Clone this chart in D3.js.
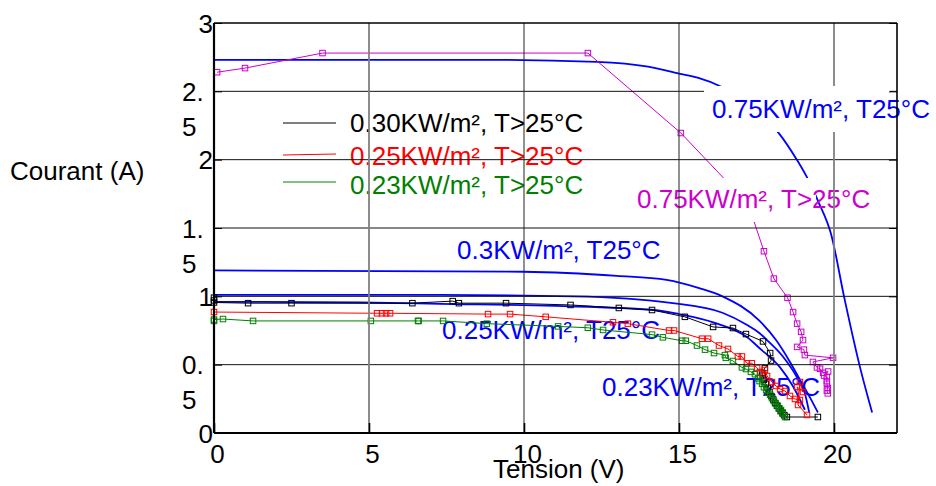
<!DOCTYPE html>
<html>
<head>
<meta charset="utf-8">
<script src="https://cdn.jsdelivr.net/npm/d3@7"></script>
<style>
  body { margin: 0; background: #fff; }
  svg { display: block; font-family: "Liberation Sans", Arial, sans-serif; }
</style>
</head>
<body>
<svg id="chart" width="936" height="486"></svg>
<script>
// values, [tension V, courant A]
const xTicks = [0, 5, 10, 15, 20];
const yTicks = [0, 0.5, 1, 1.5, 2, 2.5, 3];
const yTickLabels = ["0", "0.|5", "1", "1.|5", "2", "2.|5", "3"];

// model curves, T25°C (blue, no markers)
const model075 = [[0, 2.73], [9, 2.73], [12.35, 2.715], [14, 2.68], [15, 2.63], [15.6, 2.6], [16.4, 2.53],
  [17.3, 2.4], [18.2, 2.2], [18.8, 2.0], [19.13, 1.87], [19.5, 1.69], [19.9, 1.46], [20.35, 0.97],
  [20.84, 0.48], [21.23, 0.15]];
const model030 = [[0, 1.19], [10, 1.18], [13, 1.15], [14.6, 1.12], [15.65, 1.06], [16.4, 1.0], [17.6, 0.82],
  [18.13, 0.68], [18.58, 0.52], [18.95, 0.37], [19.25, 0.25], [19.48, 0.15]];
const model025 = [[0, 1.01], [7.3, 1.01], [11.6, 1.0], [14.8, 0.95], [16.4, 0.88], [17.2, 0.79], [17.6, 0.73],
  [17.84, 0.68], [18.35, 0.56], [18.8, 0.41], [19.06, 0.29], [19.2, 0.15]];
const model023 = [[0, 0.96], [4.7, 0.955], [7.3, 0.945], [11, 0.93], [14.2, 0.9], [15, 0.87], [16.1, 0.81],
  [17.2, 0.7], [17.6, 0.62], [18.26, 0.48], [18.68, 0.34], [19.06, 0.17]];

// measured, T>25°C (markers)
const meas075 = [[0.1, 2.64], [1.0, 2.67], [3.5, 2.78], [12.06, 2.78], [15.06, 2.195], [16.9, 1.755],
  [17.35, 1.595], [17.74, 1.33], [18.06, 1.13], [18.5, 0.99], [18.68, 0.885], [18.81, 0.8], [18.94, 0.74],
  [19.0, 0.68], [18.81, 0.63], [19.03, 0.61], [19.06, 0.57], [19.97, 0.55], [19.32, 0.52], [19.45, 0.48],
  [19.55, 0.47], [19.65, 0.44], [19.81, 0.45], [19.68, 0.42], [19.77, 0.41], [19.77, 0.38], [19.77, 0.36],
  [19.8, 0.33], [19.77, 0.31], [19.8, 0.29]];
const meas030 = [[0, 0.99], [0, 0.97], [0, 0.955], [1.1, 0.95], [2.5, 0.95], [6.4, 0.95], [7.7, 0.965],
  [7.9, 0.95], [9.42, 0.95], [11.5, 0.937], [13.06, 0.915], [14.13, 0.9], [15.19, 0.85], [16.1, 0.776],
  [16.74, 0.768], [17.16, 0.724], [17.71, 0.67], [17.94, 0.585], [17.97, 0.53], [17.77, 0.475], [17.68, 0.44],
  [17.7, 0.42], [17.74, 0.39], [17.8, 0.36], [17.86, 0.33], [17.92, 0.3], [17.98, 0.27], [18.04, 0.245],
  [18.1, 0.22], [18.16, 0.2], [18.22, 0.18], [18.28, 0.16], [18.34, 0.145], [18.4, 0.13], [18.48, 0.117],
  [19.48, 0.117]];
const meas025 = [[0, 0.885], [5.26, 0.876], [5.42, 0.876], [5.55, 0.876], [5.68, 0.876], [8.84, 0.87],
  [9.55, 0.87], [10.7, 0.85], [12.87, 0.81], [13.35, 0.8], [14.68, 0.75], [14.84, 0.75], [15.74, 0.69],
  [15.94, 0.69], [16.29, 0.64], [16.58, 0.615], [16.9, 0.56], [17.03, 0.56], [17.19, 0.51], [17.35, 0.51],
  [17.52, 0.476], [17.61, 0.446], [17.77, 0.461], [17.84, 0.417], [18.0, 0.373], [18.13, 0.344],
  [18.26, 0.322], [18.42, 0.307], [18.58, 0.271], [18.74, 0.249], [18.9, 0.241], [18.81, 0.337],
  [19.0, 0.3], [18.9, 0.373], [18.84, 0.205], [19.13, 0.132]];
const meas023 = [[0, 0.82], [0, 0.83], [0.29, 0.834], [1.26, 0.82], [5.06, 0.82], [6.58, 0.82], [6.6, 0.82],
  [7.39, 0.82], [8.8, 0.8], [11.1, 0.78], [12.06, 0.77], [12.55, 0.754], [14.13, 0.72], [14.48, 0.7],
  [15.1, 0.675], [15.22, 0.675], [15.58, 0.64], [15.84, 0.61], [16.13, 0.585], [16.48, 0.57], [16.51, 0.55],
  [16.74, 0.527], [17.03, 0.48], [17.16, 0.468], [17.32, 0.447], [17.45, 0.43], [17.55, 0.4], [17.6, 0.38],
  [17.68, 0.36], [17.74, 0.335], [17.81, 0.315], [17.87, 0.295], [17.94, 0.28], [18.0, 0.255],
  [18.06, 0.234], [18.12, 0.215], [18.19, 0.198], [18.24, 0.18], [18.29, 0.168], [18.35, 0.15],
  [18.35, 0.139], [18.42, 0.117]];

const legendNames = ["0.30KW/m², T>25°C", "0.25KW/m², T>25°C", "0.23KW/m², T>25°C"];

const svg = d3.select("#chart");
const plotL = 214, plotT = 23, plotR = 897, plotB = 433;

const x = d3.scaleLinear().domain([0, 22]).range([plotL, plotL + 22 * 31]);
const y = d3.scaleLinear().domain([0, 3]).range([plotB, plotT]);

const smooth = d3.line().x(d => x(d[0])).y(d => y(d[1])).curve(d3.curveMonotoneX);
const straight = d3.line().x(d => x(d[0])).y(d => y(d[1]));

// blue model curves
[model075, model030, model025, model023].forEach(c => {
  svg.append("path").attr("d", smooth(c))
    .attr("fill", "none").attr("stroke", "#0000ff").attr("stroke-width", 1.8);
});

// labels of the lower blue curves sit under the measured points
const blueLabels = [
  { t: "0.3KW/m², T25°C", x: 457, y: 259 },
  { t: "0.25KW/m², T25°C", x: 442, y: 339 },
  { t: "0.23KW/m², T25°C", x: 602, y: 396 }
];
blueLabels.forEach(l => {
  svg.append("text").attr("x", l.x).attr("y", l.y).attr("font-size", 26)
    .attr("fill", "#0000ff").text(l.t);
});

// measured series
const measured = [
  { d: meas075, c: "#cc00cc" },
  { d: meas030, c: "#000000" },
  { d: meas025, c: "#ff0000" },
  { d: meas023, c: "#008000" }
];
measured.forEach(s => {
  svg.append("path").attr("d", straight(s.d))
    .attr("fill", "none").attr("stroke", s.c).attr("stroke-width", 1);
  svg.append("g").selectAll("rect").data(s.d).join("rect")
    .attr("x", d => x(d[0]) - 2.75).attr("y", d => y(d[1]) - 2.75)
    .attr("width", 5.5).attr("height", 5.5)
    .attr("fill", "none").attr("stroke", s.c).attr("stroke-width", 1);
});

// label with a white patch behind part of it (box: x0, y0, x1, y1)
function boxedLabel(txt, tx, ty, color, box) {
  const g = svg.append("g");
  g.append("rect").attr("fill", "#fff")
    .attr("x", box[0]).attr("y", box[1]).attr("width", box[2] - box[0]).attr("height", box[3] - box[1]);
  g.append("text").attr("x", tx).attr("y", ty).attr("font-size", 26)
    .attr("fill", color).text(txt);
}

boxedLabel("0.75KW/m², T>25°C", 637, 208, "#cc00cc", [630, 178, 816, 222]);

// legend
const legendColors = ["#000000", "#ff0000", "#008000"];
legendNames.forEach((n, i) => {
  svg.append("line").attr("x1", 283).attr("x2", 336)
    .attr("y1", [123, 155, 182][i]).attr("y2", [123, 154, 182][i])
    .attr("stroke", legendColors[i]).attr("stroke-width", 1);
  svg.append("text").attr("x", 350).attr("y", [132, 165, 194][i]).attr("font-size", 26)
    .attr("fill", legendColors[i]).text(n);
});

// grid
svg.append("g").selectAll("line").data(yTicks.filter(v => v > 0 && v < 3)).join("line")
  .attr("x1", plotL).attr("x2", plotR).attr("y1", d => y(d)).attr("y2", d => y(d))
  .attr("stroke", "#111").attr("stroke-width", 1);
svg.append("g").selectAll("line").data(xTicks.filter(v => v > 0)).join("line")
  .attr("x1", d => x(d)).attr("x2", d => x(d)).attr("y1", plotT).attr("y2", plotB)
  .attr("stroke", d => (d === 5 || d === 20) ? "#808080" : "#222")
  .attr("stroke-width", d => (d === 5 || d === 20) ? 1.8 : 1);

boxedLabel("0.75KW/m², T25°C", 712, 118, "#0000ff", [704, 86, 890, 132]);

// axes and frame
const xAxis = svg.append("g").attr("transform", `translate(0,${plotB})`)
  .call(d3.axisBottom(x).tickValues(xTicks).tickSize(-10).tickPadding(12).tickSizeOuter(0));
xAxis.select(".domain").attr("d", `M${plotL},0H${plotR}`).attr("stroke-width", 2.2);
xAxis.selectAll(".tick line").attr("stroke-width", 1.6);
xAxis.selectAll(".tick text").attr("font-size", 26).attr("dx", 3).attr("fill", "#000")
  .attr("font-family", "Liberation Sans, Arial, sans-serif");

const yAxis = svg.append("g").attr("transform", `translate(${plotL},0)`)
  .call(d3.axisLeft(y).tickValues(yTicks).tickSize(-8).tickSizeOuter(0)
    .tickFormat((d, i) => yTickLabels[i]));
yAxis.select(".domain").attr("d", `M0,${plotB}V${plotT}`).attr("stroke-width", 2.2);
yAxis.selectAll(".tick text").each(function () {
  const t = d3.select(this);
  const parts = t.text().split("|");
  t.text(null).attr("font-size", 26).attr("fill", "#000")
    .attr("font-family", "Liberation Sans, Arial, sans-serif");
  if (parts.length === 1) {
    t.attr("x", -1).attr("text-anchor", "end").attr("dy", "0.35em").text(parts[0]);
  } else {
    t.attr("x", -32).attr("text-anchor", "start").attr("dy", "0.35em");
    t.append("tspan").attr("x", -32).text(parts[0]);
    t.append("tspan").attr("x", -32).attr("dy", 35).text(parts[1]);
  }
});

svg.append("g").attr("transform", `translate(${plotR},0)`)
  .call(d3.axisLeft(y).tickValues(yTicks).tickSize(8).tickFormat("").tickSizeOuter(0))
  .select(".domain").attr("d", `M0,${plotB}V${plotT}`).attr("stroke-width", 1.6);
svg.append("line").attr("x1", plotL).attr("x2", plotR).attr("y1", plotT).attr("y2", plotT)
  .attr("stroke", "#000").attr("stroke-width", 1.6);

// axis titles
svg.append("text").attr("x", 10).attr("y", 180).attr("font-size", 26).text("Courant (A)");
svg.append("text").attr("x", 493).attr("y", 478).attr("font-size", 26).text("Tension (V)");
</script>
</body>
</html>
